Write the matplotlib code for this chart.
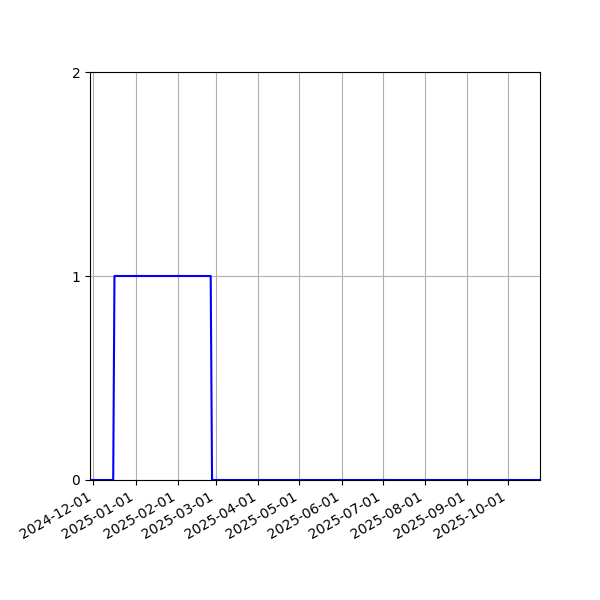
import numpy as np
import matplotlib
matplotlib.use("Agg")
import matplotlib.pyplot as plt
import matplotlib.dates as mdates

# change points of the series
dates = np.array(["2024-11-28T14", "2024-12-15T14", "2024-12-16T12",
                  "2025-02-25T00", "2025-02-26T00", "2025-10-24T06"],
                 dtype="datetime64[h]")
values = [0, 0, 1, 1, 0, 0]


def main():
    fig, ax = plt.subplots(figsize=(6, 6), dpi=100)
    ax.plot(dates, values, color="b")
    ax.set_xlim(dates[0], dates[-1])
    ax.set_ylim(0, 2)
    ax.set_yticks([0, 1, 2])
    ax.xaxis.set_major_locator(mdates.MonthLocator())
    ax.xaxis.set_major_formatter(mdates.DateFormatter("%Y-%m-%d"))
    ax.grid(True)
    fig.autofmt_xdate()
    fig.subplots_adjust(left=0.15, right=0.9, top=0.88, bottom=0.2)
    fig.savefig("out.png")


if __name__ == '__main__':
    main()
